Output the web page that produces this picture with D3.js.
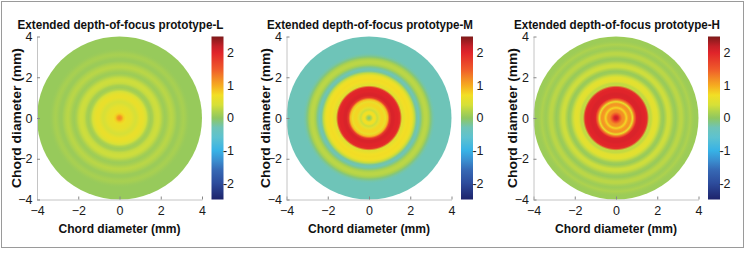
<!DOCTYPE html>
<html>
<head>
<meta charset="utf-8">
<script src="https://cdn.jsdelivr.net/npm/d3@7"></script>
<style>
  body { margin: 0; background: #fff; }
  svg { display: block; font-family: "Liberation Sans", Arial, sans-serif; }
</style>
</head>
<body>
<svg id="chart" width="746" height="254"></svg>
<script>
// titles of the three panels
const titles = [
    "Extended depth-of-focus prototype-L",
    "Extended depth-of-focus prototype-M",
    "Extended depth-of-focus prototype-H"
];

// radial position (mm) where each value was read
const radiusMm = [0, 0.1, 0.2, 0.3, 0.4, 0.5, 0.6, 0.7, 0.8, 0.9, 1.0,
    1.1, 1.2, 1.3, 1.4, 1.5, 1.6, 1.7, 1.8, 1.9, 2.0,
    2.1, 2.2, 2.3, 2.4, 2.5, 2.6, 2.7, 2.8, 2.9, 3.0,
    3.1, 3.2, 3.3, 3.4, 3.5, 3.6, 3.7, 3.8, 3.9, 4.0];

// map value along the radius, one list per prototype
const protoL = [1.25, 1.1, 0.8, 0.65, 0.6, 0.6, 0.55, 0.45, 0.4, 0.5, 0.6,
    0.6, 0.55, 0.4, 0.2, 0.1, 0.15, 0.3, 0.35, 0.35, 0.28,
    0.15, 0.08, 0.12, 0.2, 0.25, 0.22, 0.15, 0.07, 0.07, 0.12,
    0.15, 0.12, 0.07, 0.05, 0.05, 0.05, 0.05, 0.05, 0.05, 0.05];
const protoM = [-0.1, 0.2, 0.7, 0.7, 0.35, 0.55, 0.75, 0.75, 0.6, 0.9, 1.8,
    2.05, 2.05, 2.0, 2.0, 1.9, 0.5, 0.6, 0.7, 0.72, 0.7,
    0.6, 0.3, -0.2, -0.3, -0.15, 0.15, 0.25, 0.25, 0.15, -0.1,
    -0.25, -0.3, -0.3, -0.3, -0.3, -0.3, -0.3, -0.3, -0.3, -0.3];
const protoH = [2.2, 2.0, 1.5, 1.2, 1.15, 0.75, 1.1, 1.15, 0.6, 1.4, 2.0,
    2.05, 2.05, 2.0, 2.0, 1.9, 0.3, 0.3, 0.5, 0.55, 0.5,
    0.3, 0.1, 0.05, 0.2, 0.35, 0.35, 0.25, 0.1, 0.05, 0.15,
    0.25, 0.25, 0.15, 0.08, 0.12, 0.18, 0.12, 0.08, 0.08, 0.08];

const axisTicks = [-4, -2, 0, 2, 4];
const colorTicks = [-2, -1, 0, 1, 2];

// jet-like colour map as it appears in the figure
const cmapStops = [-2.5, -2.0, -1.6, -1.3, -1.0, -0.6, -0.3, 0.0, 0.2, 0.4, 0.7, 1.0, 1.2, 1.5, 2.0, 2.2, 2.5];
const cmapColors = ["#1d236b", "#2d4c9c", "#3668b4", "#3a8fd0", "#37b2e6", "#5dc2d0", "#6ec4b8", "#8fc760",
    "#b0d34c", "#d6e038", "#f2df25", "#f6ab20", "#f38c25", "#ef5a2a", "#e0242a", "#c42028", "#7d1a1a"];

const profiles = [protoL, protoM, protoH];

const svg = d3.select("#chart");
const defs = svg.append("defs");

// marco gris de la figura
svg.append("rect")
    .attr("x", 1.5).attr("y", 1.5)
    .attr("width", 742).attr("height", 246)
    .attr("fill", "none").attr("stroke", "#9a9a9a");

const color = d3.scaleLinear().domain(cmapStops).range(cmapColors).clamp(true);

const panelLeft = [37, 286.5, 533.5];
const plotW = 165, plotTop = 36.5, plotH = 163;
const axisGray = "#c4c4c4";

// colorbar gradient (shared)
const cbGrad = defs.append("linearGradient")
    .attr("id", "cbar").attr("x1", 0).attr("y1", 1).attr("x2", 0).attr("y2", 0);
const cbOffset = d3.scaleLinear().domain([-2.5, 2.5]).range([0, 100]);
cbGrad.selectAll("stop")
    .data(cmapStops)
    .join("stop")
    .attr("offset", d => cbOffset(d) + "%")
    .attr("stop-color", (d, i) => cmapColors[i]);

profiles.forEach((vals, i) => {
    const x0 = panelLeft[i];
    const x = d3.scaleLinear().domain([-4, 4]).range([x0, x0 + plotW]);
    const y = d3.scaleLinear().domain([-4, 4]).range([plotTop + plotH, plotTop]);
    const rOffset = d3.scaleLinear().domain([0, 4]).range([0, 100]);

    const g = svg.append("g");

    // radial map
    const grad = defs.append("radialGradient")
        .attr("id", "map" + i)
        .attr("cx", "50%").attr("cy", "50%").attr("r", "50%");
    grad.selectAll("stop")
        .data(radiusMm)
        .join("stop")
        .attr("offset", d => rOffset(d) + "%")
        .attr("stop-color", (d, j) => color(vals[j]));

    g.append("ellipse")
        .attr("cx", x(0)).attr("cy", y(0))
        .attr("rx", x(4) - x(0)).attr("ry", y(0) - y(4))
        .attr("fill", `url(#map${i})`);

    // ejes
    const gx = g.append("g")
        .attr("transform", `translate(0,${y(-4)})`)
        .call(d3.axisBottom(x).tickValues(axisTicks).tickSize(-3).tickSizeOuter(0).tickPadding(6.5));
    const gy = g.append("g")
        .attr("transform", `translate(${x(-4)},0)`)
        .call(d3.axisLeft(y).tickValues(axisTicks).tickSize(-3).tickSizeOuter(0).tickPadding(4.5));
    [gx, gy].forEach(a => {
        a.select(".domain").attr("stroke", axisGray);
        a.selectAll(".tick line").attr("stroke", "#888");
        a.selectAll(".tick text")
            .attr("fill", "#1a1a1a")
            .attr("font-size", 12.5)
            .attr("font-family", "Liberation Sans, Arial, sans-serif");
    });

    // title
    g.append("text")
        .attr("x", x(0) + 1).attr("y", 28.5)
        .attr("text-anchor", "middle")
        .attr("font-size", 13).attr("font-weight", "bold")
        .attr("textLength", 206).attr("lengthAdjust", "spacingAndGlyphs")
        .attr("fill", "#111")
        .text(titles[i]);

    // axis labels
    g.append("text")
        .attr("x", x(0)).attr("y", 232.5)
        .attr("text-anchor", "middle")
        .attr("font-size", 12.5).attr("font-weight", "bold").attr("fill", "#111")
        .attr("textLength", 122).attr("lengthAdjust", "spacingAndGlyphs")
        .text("Chord diameter (mm)");
    g.append("text")
        .attr("transform", `translate(${x0 - 16.5},${y(0)}) rotate(-90)`)
        .attr("text-anchor", "middle")
        .attr("font-size", 13.5).attr("font-weight", "bold").attr("fill", "#111")
        .attr("textLength", 140).attr("lengthAdjust", "spacingAndGlyphs")
        .text("Chord diameter (mm)");

    // colorbar
    const cbLeft = x0 + 174.5, cbW = 12;
    const cy = d3.scaleLinear().domain([-2.5, 2.5]).range([plotTop + plotH, plotTop]);
    g.append("rect")
        .attr("x", cbLeft).attr("y", cy(2.5))
        .attr("width", cbW).attr("height", cy(-2.5) - cy(2.5))
        .attr("fill", "url(#cbar)");
    g.selectAll(".cbtick")
        .data(colorTicks)
        .join("text")
        .attr("class", "cbtick")
        .attr("x", cbLeft + 22.5).attr("y", d => cy(d))
        .attr("dy", "0.35em")
        .attr("text-anchor", "end")
        .attr("font-size", 12.5).attr("fill", "#1a1a1a")
        .text(d => d);
});
</script>
</body>
</html>
